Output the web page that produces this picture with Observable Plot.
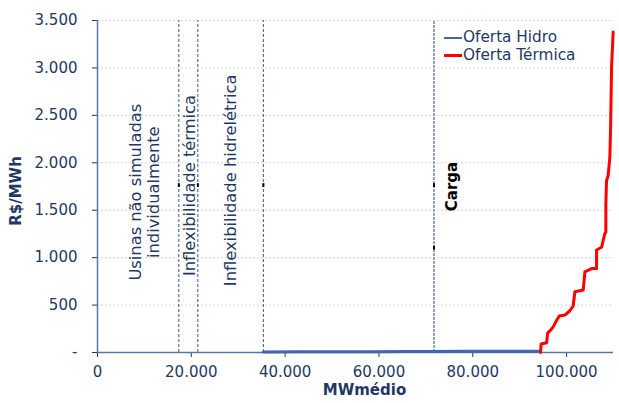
<!DOCTYPE html>
<html>
<head>
<meta charset="utf-8">
<script src="https://cdn.jsdelivr.net/npm/d3@7"></script>
<script src="https://cdn.jsdelivr.net/npm/@observablehq/plot@0.6"></script>
<style>
  html, body { margin: 0; padding: 0; background: #fff; }
  #wrap { position: relative; width: 619px; height: 403px; font-family: "DejaVu Sans", Verdana, sans-serif; color: #1f3864; }
  .abs { position: absolute; white-space: nowrap; }
  #xlabel { left: 0; width: 100%; top: 381px; text-align: center; padding-left: 110px; box-sizing: border-box; font-weight: bold; font-size: 15px; }
  #ylabel { left: 16px; top: 191px; transform: translate(-50%, -50%) rotate(-90deg); font-weight: bold; font-size: 15px; }
  #legend { left: 444px; top: 29px; font-size: 15.3px; line-height: 17.8px; }
  #legend .row { display: flex; align-items: center; height: 17.8px; }
  #legend .sw { display: inline-block; width: 18px; height: 2.5px; margin-right: 1px; }
</style>
</head>
<body>
<div id="wrap"></div>
<script>
// ---- data ----
const xTicks = [0, 20000, 40000, 60000, 80000, 100000];
const yTicks = [0, 500, 1000, 1500, 2000, 2500, 3000, 3500];

// Oferta Hidro (MWmédio, R$/MWh)
const hidroX = [35360, 42000, 50000, 58000, 66000, 71730, 78000, 86000, 94460];
const hidroY = [6, 7, 8, 9, 10, 11, 12, 13, 14];

// Oferta Térmica (MWmédio, R$/MWh)
const termX = [94460, 94560, 95740, 95950, 96590, 97150, 97720, 98420, 99640, 100700, 101400, 101770, 103540, 103900, 105330, 106390, 106390, 107460, 108160, 108370, 108370, 108520, 108650, 108860, 109220, 109370, 109590, 109930];
const termY = [0, 90, 103, 202, 236, 270, 325, 384, 395, 440, 490, 640, 658, 850, 885, 885, 1080, 1110, 1255, 1270, 1570, 1815, 1830, 1865, 2060, 2345, 3010, 3380];

// Reference vertical lines
const refLinesX = [17340, 21390, 35360];
const cargaX = [71730];

// Annotations
const annoText = ["Usinas não simuladas\nindividualmente", "Inflexibilidade térmica", "Inflexibilidade hidrelétrica"];
const annoX = [10000, 19500, 28300];
const annoY = [1690, 1760, 1815];
const cargaLabel = ["Carga"];
const cargaLabelX = [75560];
const cargaLabelY = [1750];

// small black label markers
const markX = [17340, 21390, 35360, 71730, 71730];
const markY = [1760, 1760, 1760, 1760, 1100];

// ---- build ----
const loc = d3.formatLocale({decimal: ",", thousands: ".", grouping: [3], currency: ["R$", ""]});
const fmt = loc.format(",d");
const yFmt = d => d === 0 ? "-" : fmt(d);

const hidro = hidroX.map((x, i) => ({x, y: hidroY[i]}));
const term = termX.map((x, i) => ({x, y: termY[i]}));
const annos = annoText.map((t, i) => ({t, x: annoX[i], y: annoY[i]}));
const carga = cargaLabel.map((t, i) => ({t, x: cargaLabelX[i], y: cargaLabelY[i]}));
const marks = markX.map((x, i) => ({x, y: markY[i]}));

const axisColor = "#5b73a6";
const textColor = "#1f3864";

const chart = Plot.plot({
  width: 619,
  height: 403,
  marginLeft: 97,
  marginRight: 6,
  marginTop: 20,
  marginBottom: 51,
  style: {fontFamily: "DejaVu Sans, Verdana, sans-serif", fontSize: "15px", color: textColor, background: "white"},
  x: {domain: [0, 110000]},
  y: {domain: [0, 3500]},
  marks: [
    Plot.ruleY(yTicks.filter(d => d > 0), {stroke: "#d6d6d6", strokeWidth: 1, strokeDasharray: "2,2"}),
    Plot.ruleX(refLinesX, {y1: 0, y2: 3500, stroke: "#3b5588", strokeWidth: 1, strokeDasharray: "3,2"}),
    Plot.ruleX(cargaX, {y1: 0, y2: 3500, stroke: "#8a9cc0", strokeWidth: 1.8, strokeDasharray: "3,1"}),
    Plot.ruleX(marks, {x: "x", y1: d => d.y - 20, y2: d => d.y + 20, stroke: "black", strokeWidth: 2}),
    Plot.axisX({ticks: xTicks, tickFormat: fmt, tickSize: 5, tickPadding: 9, stroke: textColor, label: null}),
    Plot.axisY({ticks: yTicks, tickFormat: yFmt, tickSize: 5, tickPadding: 15, stroke: textColor, label: null}),
    Plot.ruleX([0], {stroke: axisColor, strokeWidth: 1.5}),
    Plot.ruleY([0], {stroke: axisColor, strokeWidth: 1.5}),
    Plot.line(hidro, {x: "x", y: "y", stroke: "#3f66b0", strokeWidth: 3}),
    Plot.line(term, {x: "x", y: "y", stroke: "#ff0000", strokeWidth: 3}),
    Plot.text(annos, {x: "x", y: "y", text: "t", rotate: -90, fill: textColor, fontSize: 16.3, lineHeight: 1.12, textAnchor: "middle", lineAnchor: "middle"}),
    Plot.text(carga, {x: "x", y: "y", text: "t", rotate: -90, fill: "black", fontSize: 15, fontWeight: "bold", textAnchor: "middle", lineAnchor: "middle"})
  ]
});

const wrap = document.getElementById("wrap");
wrap.appendChild(chart);

const xl = document.createElement("div"); xl.className = "abs"; xl.id = "xlabel"; xl.textContent = "MWmédio"; wrap.appendChild(xl);
const yl = document.createElement("div"); yl.className = "abs"; yl.id = "ylabel"; yl.textContent = "R$/MWh"; wrap.appendChild(yl);

const legendItems = ["Oferta Hidro", "Oferta Térmica"];
const legendColors = ["#3f66b0", "#ff0000"];
const lg = document.createElement("div"); lg.className = "abs"; lg.id = "legend";
legendItems.forEach((name, i) => {
  const row = document.createElement("div"); row.className = "row";
  const sw = document.createElement("span"); sw.className = "sw"; sw.style.background = legendColors[i];
  const tx = document.createElement("span"); tx.textContent = name;
  row.appendChild(sw); row.appendChild(tx); lg.appendChild(row);
});
wrap.appendChild(lg);
</script>
</body>
</html>
